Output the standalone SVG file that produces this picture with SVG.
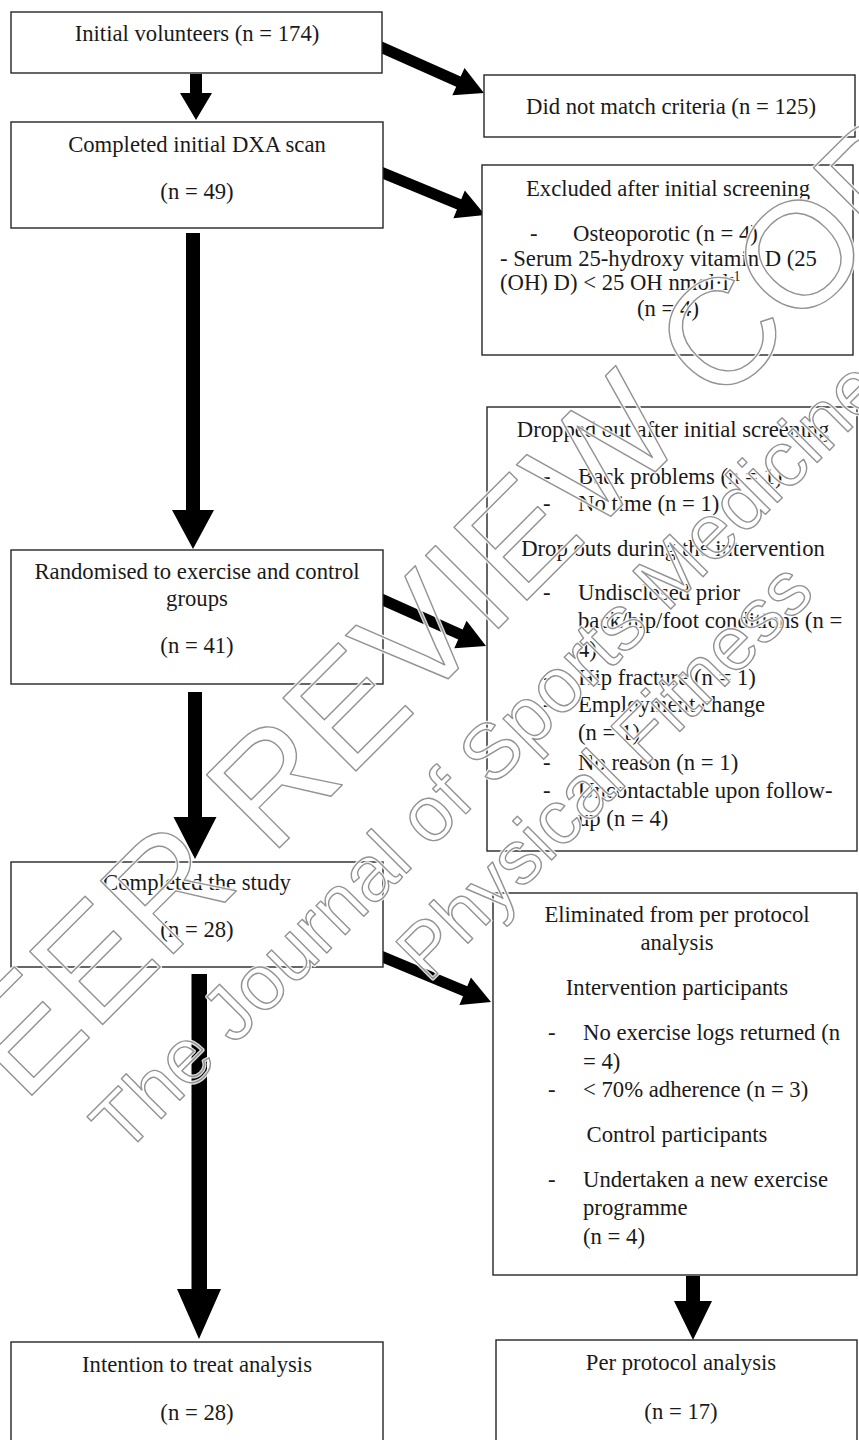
<svg xmlns="http://www.w3.org/2000/svg" width="859" height="1440" viewBox="0 0 859 1440">
<style>
.box{fill:#fff;stroke:#262626;stroke-width:1.4}
.t{font-family:"Liberation Serif","Times New Roman",serif;font-size:22.7px;fill:#1a1a1a}
.c{text-anchor:middle}
.arrow{fill:#000}
.wm{font-family:"Liberation Sans",Arial,sans-serif;fill:none;stroke-linejoin:round}
.halo{stroke:#fff;stroke-width:4;stroke-opacity:0.85}
.wline{stroke:#939393;stroke-width:1.4}
</style>
<defs>
<g id="wmtext">
<text x="-110" y="797" font-size="150" text-anchor="middle" transform="rotate(-45)">PEER REVIEW COPY</text>
<text x="-730" y="905" font-size="78" transform="rotate(-45)">The Journal of Sports Medicine and</text>
<text x="-392" y="998" font-size="76" transform="rotate(-45)">Physical Fitness</text>
</g>
</defs>
<rect width="859" height="1440" fill="#fff"/>

<g id="connectors">
<polygon class="arrow" points="190,74 202,74 202,93 212,93 196,120 180,93 190,93"/>
<polygon class="arrow" points="186,233 200,233 200,510 214,510 193,549 172,510 186,510"/>
<polygon class="arrow" points="188,692 202,692 202,817 216.5,817 195,859 173.5,817 188,817"/>
<polygon class="arrow" points="191.5,974 207,974 207,1289 221,1289 199,1339 177,1289 191.5,1289"/>
<polygon class="arrow" points="686,1276 700,1276 700,1301 712,1301 693,1340 674,1301 686,1301"/>
<polygon class="arrow" points="-114,-5.5 -28,-5.5 -28,-15 0,0 -28,15 -28,5.5 -114,5.5" transform="translate(484,93) rotate(24)"/>
<polygon class="arrow" points="-114,-5.5 -28,-5.5 -28,-15 0,0 -28,15 -28,5.5 -114,5.5" transform="translate(485,215) rotate(22.4)"/>
<polygon class="arrow" points="-116,-5.5 -28,-5.5 -28,-15 0,0 -28,15 -28,5.5 -116,5.5" transform="translate(486,646) rotate(24.1)"/>
<polygon class="arrow" points="-120,-5.5 -28,-5.5 -28,-15 0,0 -28,15 -28,5.5 -120,5.5" transform="translate(491,1002) rotate(22.6)"/>
</g>

<g id="initial">
<rect class="box" x="11" y="12" width="371" height="61"/>
<text class="t c" x="197" y="41">Initial volunteers (n = 174)</text>
</g>

<g id="not-match">
<rect class="box" x="484" y="75" width="371" height="62"/>
<text class="t c" x="671" y="114">Did not match criteria (n = 125)</text>
</g>

<g id="dxa">
<rect class="box" x="11" y="122" width="372" height="106"/>
<text class="t c" x="197" y="152">Completed initial DXA scan</text>
<text class="t c" x="197" y="199">(n = 49)</text>
</g>

<g id="excluded">
<rect class="box" x="482" y="165" width="371" height="190"/>
<text class="t c" x="668" y="196">Excluded after initial screening</text>
<text class="t" x="530" y="241">-</text>
<text class="t" x="573" y="241">Osteoporotic (n = 4)</text>
<text class="t" x="500" y="266">- Serum 25-hydroxy vitamin D (25</text>
<text class="t" x="500" y="290">(OH) D) &lt; 25 OH nmol·l<tspan font-size="14" dy="-9">-1</tspan></text>
<text class="t" x="637" y="316">(n = 4)</text>
</g>

<g id="dropped">
<rect class="box" x="487" y="407" width="370" height="444"/>
<text class="t c" x="673" y="437">Dropped out after initial screening</text>
<text class="t" x="543" y="484">-</text>
<text class="t" x="578" y="484">Back problems (n = 1)</text>
<text class="t" x="543" y="511">-</text>
<text class="t" x="578" y="511">No time (n = 1)</text>
<text class="t c" x="673" y="556">Drop outs during the intervention</text>
<text class="t" x="543" y="600">-</text>
<text class="t" x="578" y="600">Undisclosed prior</text>
<text class="t" x="578" y="628">back/hip/foot conditions (n =</text>
<text class="t" x="578" y="657">4)</text>
<text class="t" x="543" y="685">-</text>
<text class="t" x="578" y="685">Hip fracture (n = 1)</text>
<text class="t" x="543" y="712">-</text>
<text class="t" x="578" y="712">Employment change</text>
<text class="t" x="578" y="740">(n = 1)</text>
<text class="t" x="543" y="770">-</text>
<text class="t" x="578" y="770">No reason (n = 1)</text>
<text class="t" x="543" y="798">-</text>
<text class="t" x="578" y="798">Uncontactable upon follow-</text>
<text class="t" x="578" y="826">up (n = 4)</text>
</g>

<g id="randomised">
<rect class="box" x="11" y="550" width="372" height="134"/>
<text class="t c" x="197" y="579">Randomised to exercise and control</text>
<text class="t c" x="197" y="606">groups</text>
<text class="t c" x="197" y="653">(n = 41)</text>
</g>

<g id="completed">
<rect class="box" x="11" y="862" width="372" height="105"/>
<text class="t c" x="197" y="890">Completed the study</text>
<text class="t c" x="197" y="937">(n = 28)</text>
</g>

<g id="eliminated">
<rect class="box" x="493" y="893" width="364" height="382"/>
<text class="t c" x="677" y="922">Eliminated from per protocol</text>
<text class="t c" x="677" y="950">analysis</text>
<text class="t c" x="677" y="995">Intervention participants</text>
<text class="t" x="548" y="1040">-</text>
<text class="t" x="583" y="1040">No exercise logs returned (n</text>
<text class="t" x="583" y="1069">= 4)</text>
<text class="t" x="548" y="1097">-</text>
<text class="t" x="583" y="1097">&lt; 70% adherence (n = 3)</text>
<text class="t c" x="677" y="1142">Control participants</text>
<text class="t" x="548" y="1187">-</text>
<text class="t" x="583" y="1187">Undertaken a new exercise</text>
<text class="t" x="583" y="1215">programme</text>
<text class="t" x="583" y="1244">(n = 4)</text>
</g>

<g id="itt">
<rect class="box" x="11" y="1342" width="372" height="110"/>
<text class="t c" x="197" y="1372">Intention to treat analysis</text>
<text class="t c" x="197" y="1420">(n = 28)</text>
</g>

<g id="per-protocol">
<rect class="box" x="496" y="1340" width="361" height="112"/>
<text class="t c" x="681" y="1370">Per protocol analysis</text>
<text class="t c" x="681" y="1419">(n = 17)</text>
</g>

<g id="watermark">
<use href="#wmtext" class="wm halo"/>
<use href="#wmtext" class="wm wline"/>
</g>
</svg>
